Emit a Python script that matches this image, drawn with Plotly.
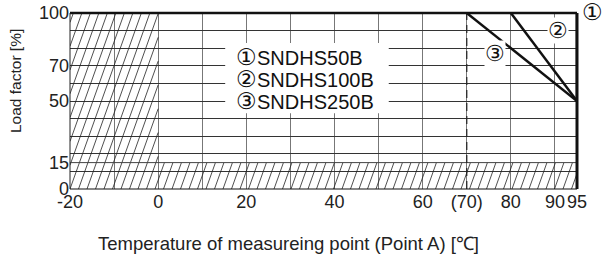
import plotly.graph_objects as go

# ---- data ----
temps_line2 = [80, 95]
load_line2 = [100, 50]
temps_line3 = [70, 95]
load_line3 = [100, 50]
temps_line1 = [95, 95]
load_line1 = [100, 50]
derate_temp = 70
min_temp = 0
min_load = 15

x_tickvals = [-20, 0, 20, 40, 60, 70, 80, 90, 95]
x_ticktext = ["-20", "0", "20", "40", "60", "(70)", "80", "90", "95"]
y_tickvals = [0, 15, 50, 70, 100]
y_ticktext = ["0", "15", "50", "70", "100"]
legend_marks = ["①", "②", "③"]
legend_names = ["SNDHS50B", "SNDHS100B", "SNDHS250B"]

XR = [-20, 95]
YR = [0, 100]
W, H = 507, 176  # plot area in px
sx = W / (XR[1] - XR[0])
sy = H / (YR[1] - YR[0])

FONT = "Liberation Sans, Arial, Helvetica, sans-serif"


def hatch(x0, x1, y0, y1, spacing=8.5, k=2.8):
    X0, X1 = (x0 - XR[0]) * sx, (x1 - XR[0]) * sx
    Y0, Y1 = (y0 - YR[0]) * sy, (y1 - YR[0]) * sy
    xs, ys = [], []
    n0 = int((X0 - Y1 / k) // spacing) - 1
    n1 = int(X1 // spacing) + 1
    for n in range(n0, n1 + 1):
        c = n * spacing
        lo = max(Y0, k * (X0 - c))
        hi = min(Y1, k * (X1 - c))
        if hi - lo > 0.5:
            for yp in (lo, hi):
                xp = c + yp / k
                xs.append(xp / sx + XR[0])
                ys.append(yp / sy + YR[0])
            xs.append(None)
            ys.append(None)
    return xs, ys


fig = go.Figure()

hx1, hy1 = hatch(XR[0], min_temp, 0, 100)
hx2, hy2 = hatch(min_temp, XR[1], 0, min_load)
fig.add_trace(go.Scatter(x=hx1 + hx2, y=hy1 + hy2, mode="lines",
                         line=dict(color="#222", width=0.8), hoverinfo="skip"))

# 15% line
fig.add_trace(go.Scatter(x=[XR[0], XR[1]], y=[min_load, min_load], mode="lines",
                         line=dict(color="#444", width=1), hoverinfo="skip"))
# dashed 70 line
fig.add_trace(go.Scatter(x=[derate_temp, derate_temp], y=[0, 100], mode="lines",
                         line=dict(color="#222", width=1.2, dash="8px,5px"), hoverinfo="skip"))

for tx, ly in [(temps_line1, load_line1), (temps_line2, load_line2), (temps_line3, load_line3)]:
    fig.add_trace(go.Scatter(x=tx, y=ly, mode="lines",
                             line=dict(color="#111", width=2.5), hoverinfo="skip"))

shapes = [
    # white legend box
    dict(type="rect", xref="x", yref="y", x0=15.2, x1=52.3, y0=43, y1=83,
         fillcolor="white", line=dict(width=0), layer="between"),
    # frame
    dict(type="line", xref="paper", yref="paper", x0=0, x1=1, y0=1, y1=1,
         line=dict(color="#111", width=2.5)),
    dict(type="line", xref="paper", yref="paper", x0=1, x1=1, y0=0, y1=1,
         line=dict(color="#111", width=3)),
    dict(type="line", xref="paper", yref="paper", x0=0, x1=0, y0=0, y1=1,
         line=dict(color="#222", width=1)),
    dict(type="line", xref="paper", yref="paper", x0=0, x1=1, y0=0, y1=0,
         line=dict(color="#111", width=1.2)),
]

annotations = []
for mk, nm, yy in zip(legend_marks, legend_names, [75, 62.5, 50]):
    annotations.append(dict(x=17.3, y=yy, xref="x", yref="y",
                            text=f"<span style='font-size:23px'>{mk}</span>{nm}",
                            showarrow=False, xanchor="left", yanchor="middle",
                            font=dict(family=FONT, size=20, color="#111")))
annotations += [
    dict(x=(580 - 70) / W, y=(189 - 12) / H, xref="paper", yref="paper", text="①",
         showarrow=False, xanchor="left", yanchor="middle",
         font=dict(family=FONT, size=23, color="#111")),
    dict(x=90.7, y=89.8, xref="x", yref="y", text="②", showarrow=False, bgcolor="white",
         borderpad=0, font=dict(family=FONT, size=22, color="#111")),
    dict(x=76.4, y=77, xref="x", yref="y", text="③", showarrow=False, bgcolor="white",
         borderpad=0, font=dict(family=FONT, size=22, color="#111")),
    dict(x=(288 - 70) / W, y=(189 - 243) / H, xref="paper", yref="paper",
         text="Temperature of measureing point (Point A) [℃]", showarrow=False,
         xanchor="center", yanchor="middle", font=dict(family=FONT, size=18.5, color="#222")),
    dict(x=(15 - 70) / W, y=(189 - 81) / H, xref="paper", yref="paper",
         text="Load factor [%]", showarrow=False, textangle=-90,
         xanchor="center", yanchor="middle", font=dict(family=FONT, size=15.5, color="#222")),
]

fig.update_layout(
    width=603, height=263,
    margin=dict(l=70, r=26, t=13, b=74),
    paper_bgcolor="white", plot_bgcolor="white",
    showlegend=False,
    shapes=shapes,
    annotations=annotations,
    font=dict(family=FONT, color="#222"),
)
fig.update_xaxes(range=XR, tickmode="array", tickvals=x_tickvals, ticktext=x_ticktext,
                 showgrid=False, zeroline=False, showline=False, ticks="", automargin=False,
                 tickfont=dict(size=18, family=FONT, color="#222"))
fig.update_yaxes(range=YR, tickmode="array", tickvals=y_tickvals, ticktext=y_ticktext,
                 showgrid=False, zeroline=False, showline=False, ticks="", automargin=False,
                 tickfont=dict(size=18, family=FONT, color="#222"))

fig.update_xaxes(minor=dict(tickmode="array", tickvals=list(range(-10, 95, 10)),
                            showgrid=True, gridcolor="#777", gridwidth=1, ticks=""))
fig.update_yaxes(minor=dict(tickmode="array", tickvals=list(range(10, 100, 10)),
                            showgrid=True, gridcolor="#333", gridwidth=1, ticks=""))

fig.write_html("out.html", config={"displayModeBar": False},
               post_script="document.body.style.margin='0';document.body.style.padding='0';")
